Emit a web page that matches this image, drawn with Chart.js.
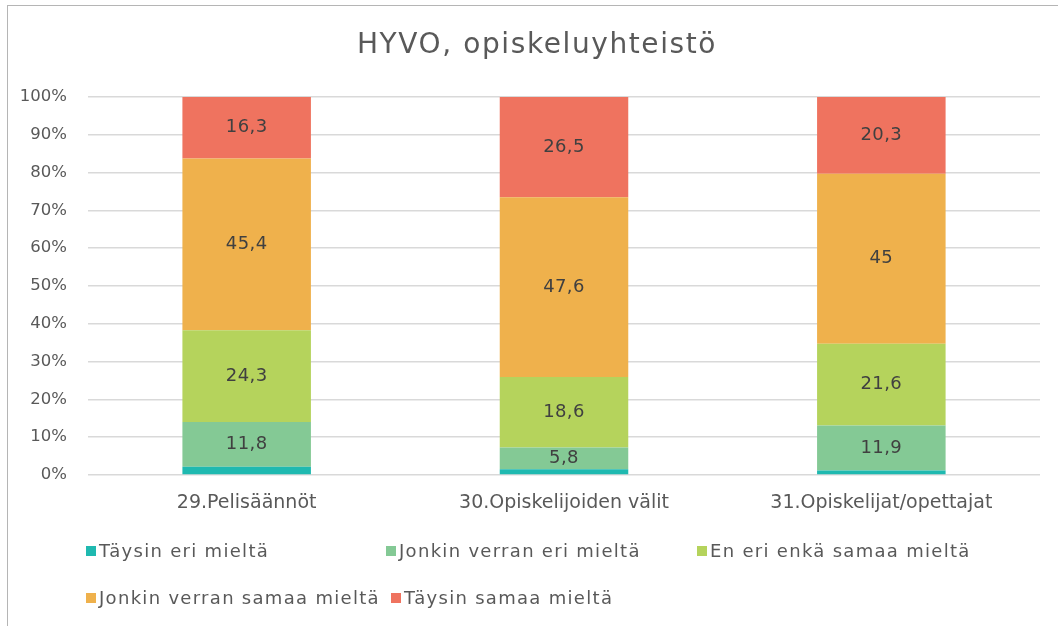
<!DOCTYPE html>
<html>
<head>
<meta charset="utf-8">
<script src="https://cdn.jsdelivr.net/npm/chart.js@4"></script>
<style>
  html, body { margin: 0; padding: 0; background: #fff; }
  #wrap { position: relative; width: 1058px; height: 626px; overflow: hidden; }
  #frame { position: absolute; left: 7px; top: 5px; width: 1100px; height: 700px; border: 1.5px solid #b5b5b5; box-sizing: border-box; }
  canvas { position: absolute; left: 0; top: 0; }
  .leg { position: absolute; font-family: "DejaVu Sans", sans-serif; font-size: 18px; letter-spacing: 1.3px; color: #595959; white-space: nowrap; line-height: 24px; }
  .leg i { display: inline-block; width: 10px; height: 10px; margin-right: 3px; vertical-align: 1px; }
</style>
</head>
<body>
<div id="wrap">
  <div id="frame"></div>
  <canvas id="grafico" width="1058" height="626"></canvas>
</div>
<script>
const otsikko = 'HYVO, opiskeluyhteistö';
const kategoriat = ['29.Pelisäännöt', '30.Opiskelijoiden välit', '31.Opiskelijat/opettajat'];
const sarjat = ['Täysin eri mieltä', 'Jonkin verran eri mieltä', 'En eri enkä samaa mieltä', 'Jonkin verran samaa mieltä', 'Täysin samaa mieltä'];
const taysinEri = [2.2, 1.5, 1.2];
const jonkinVerranEri = [11.8, 5.8, 11.9];
const enEriEnkaSamaa = [24.3, 18.6, 21.6];
const jonkinVerranSamaa = [45.4, 47.6, 45];
const taysinSamaa = [16.3, 26.5, 20.3];
const prosentit = ['0%', '10%', '20%', '30%', '40%', '50%', '60%', '70%', '80%', '90%', '100%'];
const varit = ['#1fb9b0', '#84c995', '#b5d35c', '#efb14c', '#ef735f'];

const arvot = [taysinEri, jonkinVerranEri, enEriEnkaSamaa, jonkinVerranSamaa, taysinSamaa];
const fontti = '"DejaVu Sans", sans-serif';

// otsikko ja arvot palkkien keskelle (pienintä sarjaa lukuun ottamatta)
const tekstit = {
  id: 'tekstit',
  afterDatasetsDraw(chart) {
    const ctx = chart.ctx;
    ctx.save();
    ctx.textAlign = 'center';
    ctx.textBaseline = 'middle';
    ctx.font = '28px ' + fontti;
    ctx.letterSpacing = '1.6px';
    ctx.fillStyle = '#595959';
    ctx.fillText(otsikko, 537, 46);
    ctx.letterSpacing = '0.4px';
    ctx.font = '18px ' + fontti;
    ctx.fillStyle = '#404040';
    chart.data.datasets.forEach(function(ds, i) {
      if (i === 0) return;
      chart.getDatasetMeta(i).data.forEach(function(bar, j) {
        const teksti = String(ds.data[j]).replace('.', ',');
        ctx.fillText(teksti, bar.x, (bar.y + bar.base) / 2);
      });
    });
    ctx.restore();
  }
};

const ctx = document.getElementById('grafico').getContext('2d');
const kaavio = new Chart(ctx, {
  type: 'bar',
  data: {
    labels: kategoriat,
    datasets: sarjat.map(function(nimi, i) {
      return {
        label: nimi,
        data: arvot[i],
        backgroundColor: varit[i],
        borderWidth: 0,
        categoryPercentage: 1,
        barPercentage: 0.405
      };
    })
  },
  options: {
    responsive: false,
    animation: false,
    layout: { padding: { left: 0, right: 18, top: 97, bottom: 106 } },
    plugins: {
      legend: { display: false },
      tooltip: { enabled: false },
      title: { display: false }
    },
    scales: {
      x: {
        stacked: true,
        grid: { display: false },
        border: { display: false },
        ticks: { color: '#595959', font: { family: fontti, size: 19 }, padding: 9 },
        afterFit: function(scale) { scale.height = 45; }
      },
      y: {
        stacked: true,
        min: 0,
        max: 100,
        border: { display: false },
        grid: { color: '#d9d9d9', lineWidth: 1.5, drawTicks: false },
        ticks: {
          stepSize: 10,
          padding: 21,
          color: '#595959',
          font: { family: fontti, size: 16.5 },
          callback: function(v, i) { return prosentit[i]; }
        },
        afterFit: function(scale) { scale.width = 88; }
      }
    }
  },
  plugins: [tekstit]
});

// selite HTML:nä kolmeen sarakkeeseen
const paikat = [[86, 539], [386, 539], [697, 539], [86, 586], [391, 586]];
const wrap = document.getElementById('wrap');
sarjat.forEach(function(nimi, i) {
  const el = document.createElement('div');
  el.className = 'leg';
  el.style.left = paikat[i][0] + 'px';
  el.style.top = paikat[i][1] + 'px';
  const ruutu = document.createElement('i');
  ruutu.style.background = varit[i];
  el.appendChild(ruutu);
  el.appendChild(document.createTextNode(nimi));
  wrap.appendChild(el);
});
</script>
</body>
</html>
